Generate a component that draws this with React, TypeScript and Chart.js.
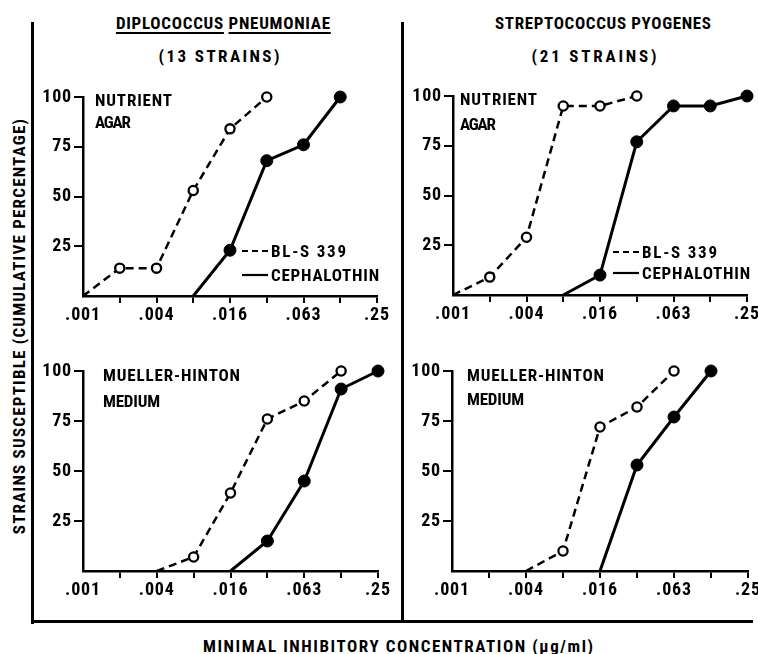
import React, { useEffect, useRef } from 'react';
import { Chart, registerables } from 'chart.js';

Chart.register(...registerables);

const FONT = "'Roboto Condensed', 'Open Sans Condensed', 'Liberation Sans', sans-serif";

// ---- data ----
const CONCENTRATIONS = ['.001', '.002', '.004', '.008', '.016', '.031', '.063', '.125', '.25'];
const TICK_LABELS = ['.001', '', '.004', '', '.016', '', '.063', '', '.25'];
const Y_MIN = 0;
const Y_MAX = 100;
const Y_STEP = 25;

const SERIES_BLS = 'BL-S 339';
const SERIES_CEPH = 'CEPHALOTHIN';

const ORGANISMS = ['DIPLOCOCCUS PNEUMONIAE', 'STREPTOCOCCUS PYOGENES'];
const STRAIN_COUNTS = ['(13 STRAINS)', '(21 STRAINS)'];
const MEDIA_NUTRIENT = ['NUTRIENT', 'AGAR'];
const MEDIA_MH = ['MUELLER-HINTON', 'MEDIUM'];

const Y_TITLE = 'STRAINS SUSCEPTIBLE (CUMULATIVE PERCENTAGE)';
const X_TITLE = 'MINIMAL INHIBITORY CONCENTRATION (\u00b5g/ml)';

const PNEUMO_NUTRIENT_BLS = [0, 14, 14, 53, 84, 100, null, null, null];
const PNEUMO_NUTRIENT_CEPH = [null, null, null, 0, 23, 68, 76, 100, null];
const STREP_NUTRIENT_BLS = [0, 9, 29, 95, 95, 100, null, null, null];
const STREP_NUTRIENT_CEPH = [null, null, null, 0, 10, 77, 95, 95, 100];
const PNEUMO_MH_BLS = [null, null, 0, 7, 39, 76, 85, 100, null];
const PNEUMO_MH_CEPH = [null, null, null, null, 0, 15, 45, 91, 100];
const STREP_MH_BLS = [null, null, 0, 10, 72, 82, 100, null, null];
const STREP_MH_CEPH = [null, null, null, null, 0, 53, 77, 100, null];

// ---- layout (not data) ----
const Y_AXIS_W = 52;
const X_AXIS_H = 34;
const PAD_T = 14;
const PAD_R = 22;
const TICK_SIZE = 18;
const LABEL_SIZE = 17;
const TITLE_SIZE = 17;

type Area = { l: number; t: number; r: number; b: number };
type PanelDef = {
  area: Area;
  bls: (number | null)[];
  ceph: (number | null)[];
  media: string[];
  mediaDx: number;
  mediaBase: number;
  mediaGap: number;
  legend?: { dx: number; y1: number; y2: number };
};

const PANELS: PanelDef[] = [
  { area: { l: 83, t: 97, r: 377, b: 296 }, bls: PNEUMO_NUTRIENT_BLS, ceph: PNEUMO_NUTRIENT_CEPH, media: MEDIA_NUTRIENT, mediaDx: 12, mediaBase: 9, mediaGap: 22, legend: { dx: 159, y1: 154, y2: 178 } },
  { area: { l: 453, t: 96, r: 747, b: 295 }, bls: STREP_NUTRIENT_BLS, ceph: STREP_NUTRIENT_CEPH, media: MEDIA_NUTRIENT, mediaDx: 7, mediaBase: 9, mediaGap: 25, legend: { dx: 160, y1: 156, y2: 177 } },
  { area: { l: 83, t: 371, r: 378, b: 571 }, bls: PNEUMO_MH_BLS, ceph: PNEUMO_MH_CEPH, media: MEDIA_MH, mediaDx: 20, mediaBase: 10, mediaGap: 26 },
  { area: { l: 452, t: 371, r: 748, b: 571 }, bls: STREP_MH_BLS, ceph: STREP_MH_CEPH, media: MEDIA_MH, mediaDx: 15, mediaBase: 10, mediaGap: 24 },
];

// target rendered widths of texts (px), used to set letter spacing
const TEXT_WIDTH: Record<string, number> = {
  NUTRIENT: 77,
  AGAR: 36,
  'MUELLER-HINTON': 137,
  MEDIUM: 57,
  'BL-S 339': 75,
  CEPHALOTHIN: 108,
};

let measureCtx: CanvasRenderingContext2D | null = null;
function naturalWidth(text: string, size: number) {
  if (!measureCtx) measureCtx = document.createElement('canvas').getContext('2d');
  const c = measureCtx!;
  c.font = `bold ${size}px ${FONT}`;
  (c as any).letterSpacing = '0px';
  return c.measureText(text).width;
}
function fitSpacing(text: string, size: number, target: number) {
  const w = naturalWidth(text, size);
  return (target - w) / Math.max(1, text.length - 1);
}

const annotationPlugin = {
  id: 'panelAnnotations',
  beforeDraw(chart: any) {
    const s = fitSpacing('.001', TICK_SIZE, 35);
    chart.ctx.letterSpacing = `${s.toFixed(2)}px`;
  },
  afterDraw(chart: any, _args: any, opts: any) {
    const ctx = chart.ctx as CanvasRenderingContext2D;
    const ca = chart.chartArea;
    const def: PanelDef = opts.def;
    ctx.save();
    ctx.fillStyle = '#000';
    ctx.strokeStyle = '#000';
    ctx.font = `bold ${LABEL_SIZE}px ${FONT}`;
    ctx.textBaseline = 'alphabetic';
    ctx.textAlign = 'left';
    const put = (s: string, x: number, y: number) => {
      const sp = TEXT_WIDTH[s] ? fitSpacing(s, LABEL_SIZE, TEXT_WIDTH[s]) : 1;
      (ctx as any).letterSpacing = `${sp.toFixed(2)}px`;
      ctx.fillText(s, x, y);
    };
    def.media.forEach((s, i) => {
      put(s, ca.left + def.mediaDx, ca.top + def.mediaBase + i * def.mediaGap);
    });
    if (def.legend) {
      const lg = def.legend;
      const x0 = ca.left + lg.dx;
      chart.data.datasets.forEach((ds: any, i: number) => {
        const y = ca.top + (i === 0 ? lg.y1 : lg.y2);
        ctx.beginPath();
        ctx.lineWidth = 2.2;
        ctx.setLineDash(ds.borderDash && ds.borderDash.length ? [6, 4] : []);
        ctx.moveTo(x0, y);
        ctx.lineTo(x0 + 26, y);
        ctx.stroke();
        ctx.setLineDash([]);
        put(ds.label, x0 + 29, y + 6);
      });
    }
    ctx.restore();
  },
};

function Panel({ def }: { def: PanelDef }) {
  const ref = useRef<HTMLCanvasElement | null>(null);
  const { area } = def;
  const w = area.r - area.l + Y_AXIS_W + PAD_R;
  const h = area.b - area.t + PAD_T + X_AXIS_H;

  useEffect(() => {
    if (!ref.current) return;
    const radius = (r: number) => (c: any) => (c.raw === 0 ? 0 : r);
    const chart = new Chart(ref.current, {
      type: 'line',
      data: {
        labels: CONCENTRATIONS,
        datasets: [
          {
            label: SERIES_BLS,
            data: def.bls,
            borderColor: '#000',
            borderWidth: 2.5,
            borderDash: [8, 5],
            pointBackgroundColor: '#fff',
            pointBorderColor: '#000',
            pointBorderWidth: 2.3,
            pointRadius: radius(4.6),
            tension: 0,
            spanGaps: false,
            clip: false,
          } as any,
          {
            label: SERIES_CEPH,
            data: def.ceph,
            borderColor: '#000',
            borderWidth: 3,
            pointBackgroundColor: '#000',
            pointBorderColor: '#000',
            pointBorderWidth: 1,
            pointRadius: radius(6),
            tension: 0,
            spanGaps: false,
            clip: false,
          } as any,
        ],
      },
      options: {
        responsive: false,
        animation: false,
        devicePixelRatio: 1,
        layout: { padding: { top: PAD_T, right: PAD_R, left: 0, bottom: 0 } },
        plugins: {
          legend: { display: false },
          tooltip: { enabled: false },
          panelAnnotations: { def },
        } as any,
        scales: {
          x: {
            type: 'category',
            offset: false,
            afterFit: (s: any) => { s.height = X_AXIS_H; },
            grid: {
              offset: false,
              drawOnChartArea: false,
              drawTicks: true,
              tickLength: 7,
              lineWidth: 2,
              color: (c: any) => (c.index === 0 ? 'rgba(0,0,0,0)' : '#000'),
            },
            border: { display: true, color: '#000', width: 2.5 },
            ticks: {
              autoSkip: false,
              maxRotation: 0,
              minRotation: 0,
              padding: 2,
              color: '#000',
              font: { family: FONT, size: TICK_SIZE, weight: 'bold' },
              callback: (_v: any, i: number) => TICK_LABELS[i],
            },
          },
          y: {
            type: 'linear',
            min: Y_MIN,
            max: Y_MAX,
            afterFit: (s: any) => { s.width = Y_AXIS_W; },
            grid: {
              drawOnChartArea: false,
              drawTicks: true,
              tickLength: 9,
              lineWidth: 2,
              color: (c: any) => (c.tick && c.tick.value === 0 ? 'rgba(0,0,0,0)' : '#000'),
            },
            border: { display: true, color: '#000', width: 2.5 },
            ticks: {
              stepSize: Y_STEP,
              padding: 2,
              color: '#000',
              font: { family: FONT, size: TICK_SIZE, weight: 'bold' },
              callback: (v: any) => (v === 0 ? '' : String(v)),
            },
          },
        },
      } as any,
      plugins: [annotationPlugin],
    });
    return () => chart.destroy();
  }, [def]);

  return (
    <canvas
      ref={ref}
      width={w}
      height={h}
      style={{ position: 'absolute', left: area.l - Y_AXIS_W, top: area.t - PAD_T, width: w, height: h }}
    />
  );
}

const capTop = (cy: number, size: number) => cy - 0.4865 * size;

function Text({ cx, cy, size, width, text, children }: any) {
  const sp = fitSpacing(text, size, width);
  return (
    <div
      style={{
        position: 'absolute',
        left: cx + sp / 2,
        top: capTop(cy, size),
        transform: 'translateX(-50%)',
        fontSize: size,
        lineHeight: `${size}px`,
        letterSpacing: `${sp.toFixed(2)}px`,
        whiteSpace: 'nowrap',
      }}
    >
      {children ?? text}
    </div>
  );
}

const underline: React.CSSProperties = {
  textDecoration: 'underline',
  textDecorationThickness: '2px',
  textUnderlineOffset: '3px',
};

export default function App() {
  const [w1, w2] = ORGANISMS[0].split(' ');
  const ySp = fitSpacing(Y_TITLE, TITLE_SIZE, 415);
  return (
    <div
      style={{
        position: 'absolute',
        left: 0,
        top: 0,
        width: 758,
        height: 654,
        overflow: 'hidden',
        background: '#fff',
        fontFamily: FONT,
        fontWeight: 'bold',
        color: '#000',
      }}
    >
      {/* frame */}
      <div style={{ position: 'absolute', left: 31, top: 22, width: 3, height: 602, background: '#000' }} />
      <div style={{ position: 'absolute', left: 401, top: 22, width: 3, height: 601, background: '#000' }} />
      <div style={{ position: 'absolute', left: 31, top: 620, width: 722, height: 3, background: '#000' }} />

      <Text cx={223} cy={23} size={TITLE_SIZE} width={214} text={ORGANISMS[0]}>
        <span style={underline}>{w1}</span> <span style={underline}>{w2}</span>
      </Text>
      <Text cx={219} cy={56} size={TITLE_SIZE} width={121} text={STRAIN_COUNTS[0]} />
      <Text cx={603} cy={23} size={TITLE_SIZE} width={216} text={ORGANISMS[1]} />
      <Text cx={594} cy={56} size={TITLE_SIZE} width={125} text={STRAIN_COUNTS[1]} />

      <div
        style={{
          position: 'absolute',
          left: 19,
          top: 326,
          transform: 'translate(-50%, -50%) rotate(-90deg)',
          fontSize: TITLE_SIZE,
          lineHeight: `${TITLE_SIZE}px`,
          letterSpacing: `${ySp.toFixed(2)}px`,
          whiteSpace: 'nowrap',
        }}
      >
        {Y_TITLE}
      </div>
      <Text cx={398} cy={646} size={TITLE_SIZE} width={390} text={X_TITLE} />

      {PANELS.map((p, i) => (
        <Panel key={i} def={p} />
      ))}
    </div>
  );
}
